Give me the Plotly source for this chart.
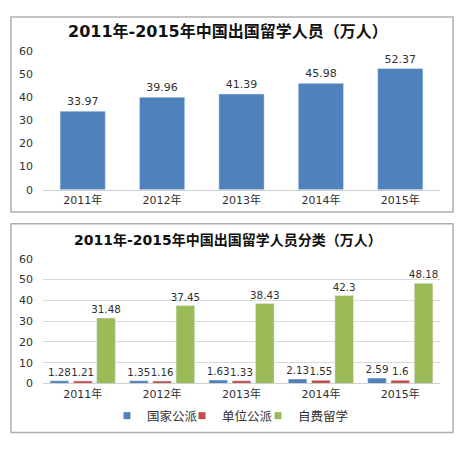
import plotly.graph_objects as go

# data
years = ['2011年', '2012年', '2013年', '2014年', '2015年']
total = [33.97, 39.96, 41.39, 45.98, 52.37]

guojia = [1.28, 1.35, 1.63, 2.13, 2.59]
danwei = [1.21, 1.16, 1.33, 1.55, 1.6]
zifei = [31.48, 37.45, 38.43, 42.3, 48.18]
series_names = ['国家公派', '单位公派', '自费留学']

# the page puts the figure 8px in from the top left corner,
# so every position below is given in window pixels and shifted back by 8
W, H = 466, 449
OFF = 8
def px_x(v):
    return (v - OFF) / W
def px_y(v):
    return 1 - (v - OFF) / H

FONT = 'DejaVu Sans, Noto Sans CJK SC'
TXT = '#303030'

fig = go.Figure()

# top chart
fig.add_trace(go.Bar(x=years, y=total, marker_color='#4F81BD',
                     text=[str(v) for v in total], textposition='outside',
                     textfont=dict(size=11, color=TXT, family=FONT),
                     cliponaxis=False, constraintext='none', width=0.57,
                     showlegend=False, xaxis='x', yaxis='y'))

# bottom chart
colors = ['#4F81BD', '#C0504D', '#9BBB59']
legends = ['legend', 'legend2', 'legend3']
for name, vals, c, lg in zip(series_names, [guojia, danwei, zifei], colors, legends):
    fig.add_trace(go.Bar(x=years, y=vals, name=name, marker_color=c,
                         text=[str(v) for v in vals], textposition='outside',
                         textfont=dict(size=10.3, color=TXT, family=FONT),
                         cliponaxis=False, constraintext='none',
                         showlegend=False, xaxis='x2', yaxis='y2'))
    # small square legend keys like the original
    fig.add_trace(go.Scatter(x=[None], y=[None], mode='markers', name=name,
                             marker=dict(symbol='square', size=7, color=c),
                             legend=lg, xaxis='x2', yaxis='y2'))

leg = dict(orientation='h', xanchor='left', yanchor='middle', y=px_y(422),
           font=dict(size=12.5), bgcolor='rgba(0,0,0,0)')

fig.update_layout(
    width=W, height=H,
    margin=dict(l=0, r=0, t=0, b=0),
    paper_bgcolor='white', plot_bgcolor='white',
    font=dict(family=FONT, color=TXT, size=11),
    barmode='group',
    bargap=0.12, bargroupgap=0.2,
    xaxis=dict(domain=[px_x(43), px_x(440)], anchor='y',
               showline=True, linecolor='#d0d0d0', ticks='',
               tickfont=dict(size=11)),
    yaxis=dict(domain=[px_y(189), px_y(46)], anchor='x', range=[0, 60],
               dtick=10, showgrid=False, zeroline=False, showline=False,
               ticks='', ticklabelstandoff=9, tickfont=dict(size=11)),
    xaxis2=dict(domain=[px_x(43), px_x(440)], anchor='y2',
                showline=True, linecolor='#d0d0d0', ticks='',
                tickfont=dict(size=11)),
    yaxis2=dict(domain=[px_y(388.5), px_y(260)], anchor='x2', range=[0, 60],
                dtick=10, showgrid=True, gridcolor='#d9d9d9', zeroline=False,
                showline=False, ticks='', ticklabelstandoff=9,
                tickfont=dict(size=11)),
    legend=dict(leg, x=px_x(107)),
    legend2=dict(leg, x=px_x(182)),
    legend3=dict(leg, x=px_x(258)),
)

# frames around the two charts
for y0, y1 in [(11, 212), (224, 439)]:
    fig.add_shape(type='rect', xref='paper', yref='paper',
                  x0=px_x(11), x1=px_x(453), y0=px_y(y1), y1=px_y(y0),
                  line=dict(color='#b0b0b0', width=1.5), layer='below')

fig.add_annotation(text='<b>2011年-2015年中国出国留学人员（万人）</b>',
                   xref='paper', yref='paper', x=px_x(227.5), y=px_y(26.5),
                   xanchor='center', yanchor='middle',
                   showarrow=False, font=dict(size=16, color='#111111'))
fig.add_annotation(text='<b>2011年-2015年中国出国留学人员分类（万人）</b>',
                   xref='paper', yref='paper', x=px_x(228), y=px_y(241),
                   xanchor='center', yanchor='middle',
                   showarrow=False, font=dict(size=14, color='#111111'))

fig.write_html("out.html")
